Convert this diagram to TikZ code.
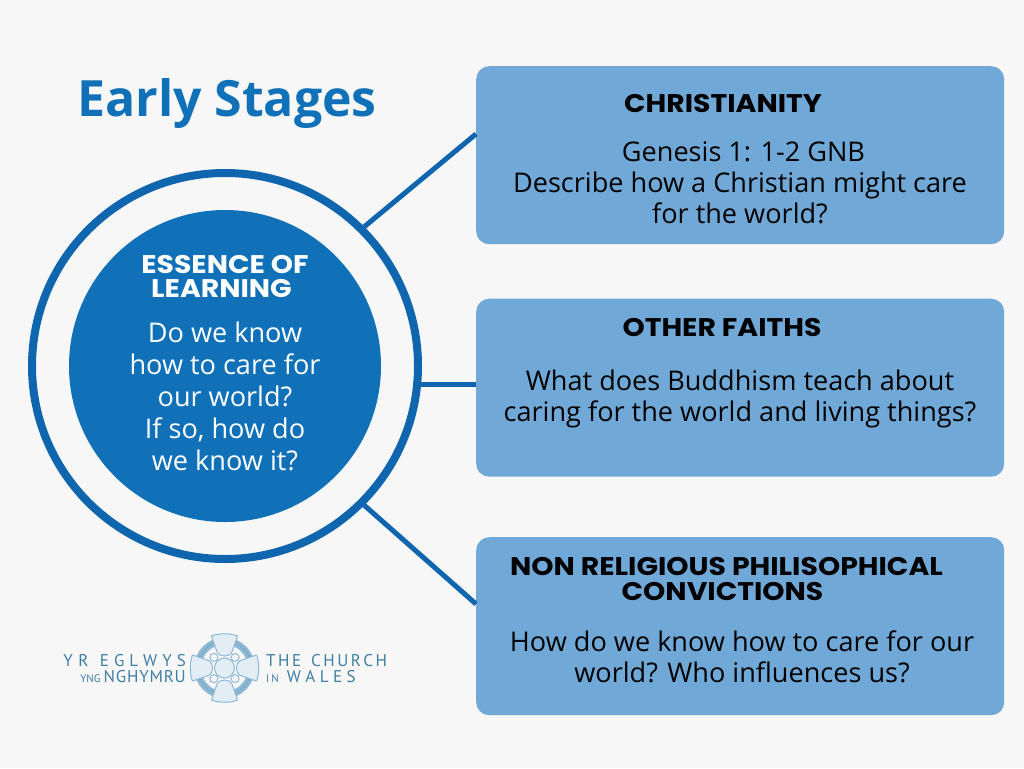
\documentclass[tikz,border=0pt]{standalone}
\usepackage{fontspec}
\setmainfont{Open Sans}
\newfontfamily\headfont{Poppins}[BoldFont={Poppins Bold},FakeStretch=1.11]
\newfontfamily\bodyfont{Open Sans}
\newfontfamily\logofont{PT Sans}
\definecolor{bgc}{HTML}{F7F7F7}
\definecolor{deep}{HTML}{1071B8}
\definecolor{ringc}{HTML}{0F65AE}
\definecolor{boxc}{HTML}{70A9D7}
\definecolor{logoc}{HTML}{3F7FA3}
\definecolor{logol}{HTML}{E3EDF6}
\definecolor{logob}{HTML}{8DB9D6}
\tikzset{
  x=1pt,y=-1pt,
  card/.style={fill=boxc,rounded corners=13pt,minimum width=528pt,minimum height=178pt,inner sep=0pt,anchor=north west},
  link/.style={draw=ringc,line width=5pt},
  head/.style={font=\headfont\bfseries\fontsize{25.5}{25}\selectfont,text=black,align=center,inner sep=0pt},
  body/.style={font=\bodyfont\fontsize{27.1}{31}\selectfont,text=black,align=center,inner sep=0pt},
  ihead/.style={font=\headfont\bfseries\fontsize{25.5}{25}\selectfont,text=white,align=center,inner sep=0pt},
  ibody/.style={font=\bodyfont\fontsize{27.1}{32}\selectfont,text=white,align=center,inner sep=0pt},
  logotext/.style={font=\logofont,text=logoc,inner sep=0pt},
  arm/.style={fill=logol,draw=logob,line width=1pt,line join=round},
}
\begin{document}
\begin{tikzpicture}
\useasboundingbox (0,0) rectangle (1024,768);
\fill[bgc] (0,0) rectangle (1024,768);

\node[card] (c1) at (476,66) {};
\node[card] (c2) at (476,298.5) {};
\node[card] (c3) at (476,537) {};

\node[circle,draw=ringc,line width=8pt,minimum size=386pt,inner sep=0pt] (ring) at (225,366) {};
\node[circle,fill=deep,minimum size=312pt,inner sep=0pt] (core) at (225,366) {};

\coordinate (e1) at (476,134);
\coordinate (e2) at (476,384);
\coordinate (e3) at (476,604);
\coordinate (m2) at (421,384);
\draw[link] (ring.45) -- (e1);
\draw[link] (m2) -- (e2);
\draw[link] (ring.-45) -- (e3);

\node[font=\bodyfont\bfseries\fontsize{50}{52}\selectfont,text=deep,inner sep=0pt] (title) at (227,104) {Early Stages};

\node[ihead] (eh) at (225,276) {ESSENCE OF\\[-1pt]\hspace*{-7pt}LEARNING};
\node[ibody] (eb) at (225,396) {Do we know\\how to care for\\our world?\\If so, how do\\we know it?};

\node[head] (h1) at (723,104) {CHRISTIANITY};
\node[body] (b1) at (740,183) {\hspace*{7pt}Genesis 1: 1-2 GNB\\Describe how a Christian might care\\for the world?};
\node[head] (h2) at (722,328) {OTHER FAITHS};
\node[body] (b2) at (740,399) {What does Buddhism teach about\\caring for the world and living things?};
\node[head] (h3) at (726.5,579) {NON RELIGIOUS PHILISOPHICAL\\\hspace*{-8pt}CONVICTIONS};
\node[body] (b3) at (742,657) {How do we know how to care for our\\world? Who influences us?};

% logo
\node[logotext,font=\logofont\fontsize{17}{17}\selectfont,anchor=east] (l1) at (186,661) {Y\hspace{5.5pt}R\hspace{11.5pt}E\hspace{5pt}G\hspace{5pt}L\hspace{5pt}W\hspace{5pt}Y\hspace{5pt}S};
\node[logotext,anchor=east] (l2) at (186,677) {\fontsize{11}{11}\selectfont YNG\hspace{3pt}\fontsize{17}{17}\selectfont N\hspace{0.8pt}G\hspace{0.8pt}H\hspace{0.8pt}Y\hspace{0.8pt}M\hspace{0.8pt}R\hspace{0.8pt}U};
\node[logotext,font=\logofont\fontsize{17}{17}\selectfont,anchor=west] (l3) at (266,661) {T\hspace{2.5pt}H\hspace{2.5pt}E\hspace{10pt}C\hspace{2.5pt}H\hspace{2.5pt}U\hspace{2.5pt}R\hspace{2.5pt}C\hspace{2.5pt}H};
\node[logotext,anchor=west] (l4) at (266,677) {\fontsize{11}{11}\selectfont I\hspace{2pt}N\hspace{8pt}\fontsize{17}{17}\selectfont W\hspace{4.5pt}A\hspace{4.5pt}L\hspace{4.5pt}E\hspace{4.5pt}S};

\begin{scope}[shift={(224.5,668)}]
  \draw[logob,line width=7pt] (0,0) circle[radius=27pt];
  \draw[logoc!70,line width=1.6pt,dash pattern=on 1.5pt off 1.5pt] (0,0) circle[radius=27pt];
  \foreach \a in {0,90,180,270}{
    \begin{scope}[rotate=\a]
      \draw[arm] (-7,-15) .. controls (-9,-20) and (-11,-26) .. (-13,-32) .. controls (-6,-35) and (6,-35) .. (13,-32) .. controls (11,-26) and (9,-20) .. (7,-15) .. controls (4,-11) and (-4,-11) .. (-7,-15) -- cycle;
    \end{scope}
  }
  \foreach \a in {45,135,225,315}{
    \begin{scope}[rotate=\a]
      \draw[logob,line width=1pt,fill=bgc] (0,-15) circle[radius=4pt];
    \end{scope}
  }
  \fill[logol,draw=logob,line width=1pt] (0,0) circle[radius=10pt];
\end{scope}
\end{tikzpicture}
\end{document}
